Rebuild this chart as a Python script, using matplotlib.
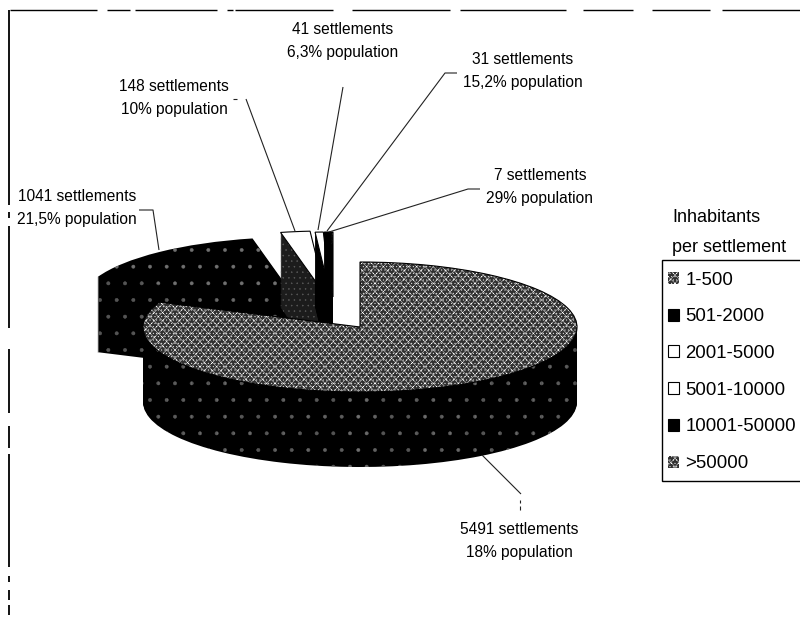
import matplotlib
matplotlib.use("Agg")
import matplotlib.pyplot as plt
from matplotlib.patches import Patch, Rectangle

plt.rcParams['font.family'] = ['Liberation Sans', 'DejaVu Sans']
plt.rcParams['hatch.linewidth'] = 0.3

# data
classes = ['1-500', '501-2000', '2001-5000', '5001-10000', '10001-50000', '>50000']
settlements = [5491, 1041, 148, 41, 31, 7]
population = ['18%', '21,5%', '10%', '6,3%', '15,2%', '29%']

# pie geometry, in pixels of the 800x621 picture
W, H = 800, 621
CX, CY = 360, 327
RX, RY = 217, 65
DEPTH = 75
shift = [(0, 0), (-62, -25), (-34, -31), (-29, -30), (-28, -30), (-27, -30)]

TEXTURE = 'xxxx.....'
top_face = ['#303030', 'black', 'white', 'white', 'black', '#303030']
top_hatch = [TEXTURE, '.', None, None, None, TEXTURE]
side_face = ['black', 'black', '#1c1c1c', 'black', 'black', 'black']
side_hatch = ['.', '.', '...', None, None, None]
draw_order = [1, 2, 3, 4, 5, 0]

label_pos = [(519, 541), (77, 208), (174, 98), (343, 41), (523, 71), (540, 187)]

leaders = [
    [(482, 455), (521, 494)],
    [(139, 210), (153, 210), (159, 250)],
    [(233, 99), (237, 99)],
    [(246, 99), (295, 231)],
    [(343, 87), (318, 230)],
    [(457, 73), (445, 73), (327, 231)],
    [(480, 189), (468, 189), (329, 232)],
    [(519.5, 500), (519.5, 503)],
    [(519.5, 506), (519.5, 510)],
]

top_rule = [(10, 97), (107, 130), (135, 217), (227, 233), (235, 333), (352, 450),
            (460, 566), (583, 633), (652, 710), (722, 800)]
left_rule = [(10, 205), (212, 218), (226, 328), (349, 413), (426, 448), (454, 567),
             (576, 582), (590, 600), (605, 615)]

fig = plt.figure(figsize=(W / 100, H / 100), dpi=100)
ax = fig.add_axes([0, 0, 1, 1])


def draw_slice(i, off_x, off_y, face, hatch, edge, speck='#707070'):
    wedges, _ = ax.pie(settlements, center=(off_x / RX, -off_y / RY), startangle=90,
                       counterclock=False, radius=1)
    for j, w in enumerate(wedges):
        if j != i:
            w.remove()
    w = wedges[i]
    w.set_facecolor(face)
    w.set_hatch(hatch)
    if edge:
        w.set_edgecolor('black')
        w.set_linewidth(0.8)
    else:
        w.set_edgecolor(speck if hatch else face)
        w.set_linewidth(0)
    return w


for i in draw_order:
    dx, dy = shift[i]
    for d in range(DEPTH, 0, -1):
        draw_slice(i, dx, dy + d, side_face[i], side_hatch[i], False)
    if top_hatch[i] == TEXTURE:
        draw_slice(i, dx, dy, top_face[i], top_hatch[i], False, speck='white')
        draw_slice(i, dx, dy, 'none', None, True)
    elif top_hatch[i]:
        draw_slice(i, dx, dy, top_face[i], top_hatch[i], False)
    else:
        draw_slice(i, dx, dy, top_face[i], None, True)

ax.set_aspect('auto')
ax.set_xlim(-CX / RX, (W - CX) / RX)
ax.set_ylim(-(H - CY) / RY, CY / RY)
ax.axis('off')

# overlay in picture pixels for the callouts, legend and the scanned frame
over = fig.add_axes([0, 0, 1, 1], zorder=5)
over.set_xlim(0, W)
over.set_ylim(H, 0)
over.axis('off')

for n, pop, (x, y) in zip(settlements, population, label_pos):
    over.text(x, y, f'{n} settlements\n{pop} population', ha='center', va='center',
              fontsize=11.2, linespacing=1.6, color='black')

for pts in leaders:
    over.plot([p[0] for p in pts], [p[1] for p in pts], color='#222222', lw=0.8,
              solid_capstyle='butt')

for a, b in top_rule:
    over.plot([a, b], [10, 10], color='black', lw=1.0, solid_capstyle='butt')
for a, b in left_rule:
    over.plot([9, 9], [a, b], color='black', lw=1.3, solid_capstyle='butt')

over.text(672, 217, 'Inhabitants', fontsize=13, va='center', ha='left')
over.text(672, 248, 'per settlement', fontsize=13, va='center', ha='left')

over.add_patch(Rectangle((662, 260), 160, 221, facecolor='white', edgecolor='black', lw=1.0))
handles = [Patch(facecolor=f, edgecolor='black' if h is None else 'white',
                 hatch=h, linewidth=0.8 if h is None else 0)
           for f, h in zip(top_face, [TEXTURE, None, None, None, None, TEXTURE])]
leg = over.legend(handles, classes, loc='upper left', bbox_to_anchor=(656, 260),
                  bbox_transform=over.transData, fontsize=13.4, frameon=False,
                  handlelength=0.62, handleheight=0.62, handletextpad=0.35,
                  labelspacing=1.06, borderpad=0.62, borderaxespad=0)

fig.savefig('out.png', dpi=100, facecolor='white')
